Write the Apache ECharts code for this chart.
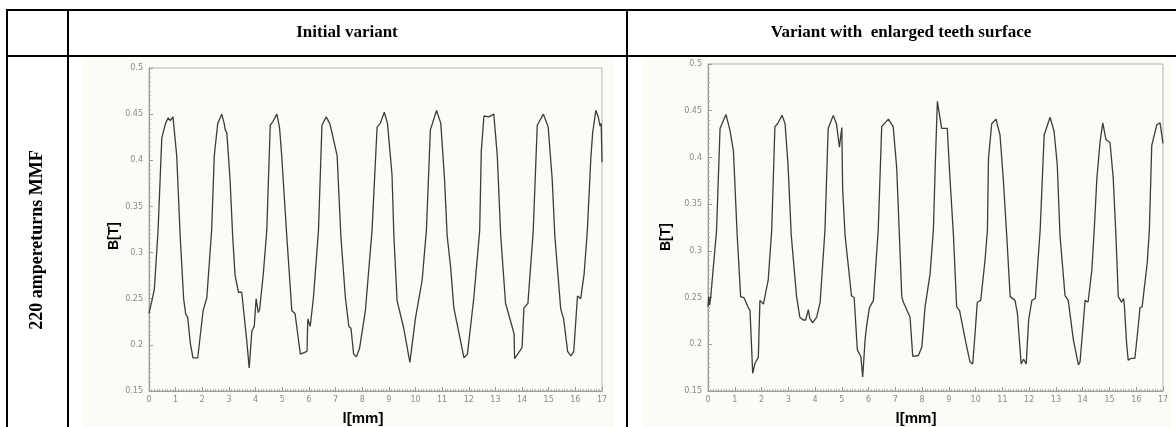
<!DOCTYPE html>
<html>
<head>
<meta charset="utf-8">
<script src="https://cdn.jsdelivr.net/npm/echarts@6/dist/echarts.min.js"></script>
<style>
html,body{margin:0;padding:0;background:#fff;}
#c{width:1176px;height:427px;}
</style>
</head>
<body>
<div id="c"></div>
<script>
// ---- data ----
var headerLabels = ['Initial variant', 'Variant with  enlarged teeth surface'];
var rowLabel = '220 ampereturns MMF';
var yAxisName = 'B[T]';
var xAxisName = 'l[mm]';
var yTicks = [0.15, 0.2, 0.25, 0.3, 0.35, 0.4, 0.45, 0.5];
var xTicks = [0,1,2,3,4,5,6,7,8,9,10,11,12,13,14,15,16,17];

var lengthInitial = [0,0.11,0.2,0.34,0.48,0.62,0.72,0.8,0.9,1.04,1.17,1.3,1.38,1.45,1.55,1.65,1.83,2.03,2.17,2.35,2.45,2.58,2.73,2.82,2.86,2.92,3.04,3.14,3.23,3.36,3.48,3.67,3.76,3.86,3.95,4.02,4.1,4.15,4.29,4.42,4.55,4.65,4.8,4.9,4.98,5.17,5.36,5.48,5.68,5.93,5.96,6.05,6.17,6.36,6.49,6.65,6.78,6.85,6.92,7.06,7.2,7.37,7.5,7.58,7.68,7.78,7.9,8.12,8.37,8.56,8.68,8.83,8.95,9.12,9.19,9.31,9.56,9.79,10.0,10.25,10.41,10.56,10.79,10.95,11.09,11.19,11.32,11.44,11.82,11.95,12.19,12.41,12.47,12.57,12.75,12.94,13.07,13.2,13.38,13.45,13.52,13.7,13.72,14.0,14.07,14.22,14.42,14.57,14.8,14.98,15.13,15.23,15.45,15.56,15.71,15.83,15.94,16.08,16.2,16.33,16.45,16.58,16.65,16.77,16.85,16.93,16.97,17.0];
var fluxInitial = [0.234,0.248,0.26,0.324,0.424,0.44,0.446,0.443,0.447,0.405,0.318,0.25,0.233,0.23,0.202,0.186,0.186,0.237,0.251,0.324,0.405,0.44,0.45,0.44,0.433,0.43,0.38,0.318,0.275,0.257,0.257,0.204,0.175,0.215,0.22,0.25,0.235,0.238,0.277,0.324,0.438,0.442,0.45,0.435,0.405,0.318,0.237,0.234,0.19,0.193,0.228,0.22,0.251,0.324,0.438,0.447,0.44,0.432,0.431,0.405,0.318,0.251,0.22,0.218,0.19,0.187,0.196,0.237,0.324,0.436,0.44,0.452,0.44,0.384,0.318,0.248,0.218,0.181,0.229,0.27,0.324,0.433,0.454,0.44,0.38,0.318,0.284,0.24,0.186,0.19,0.251,0.324,0.41,0.448,0.447,0.45,0.405,0.318,0.245,0.238,0.24,0.212,0.185,0.197,0.24,0.245,0.324,0.438,0.45,0.436,0.38,0.318,0.239,0.228,0.193,0.188,0.193,0.253,0.25,0.277,0.324,0.402,0.43,0.454,0.448,0.437,0.44,0.398];

var lengthEnlarged = [0,0.03,0.06,0.1,0.32,0.45,0.67,0.82,0.95,1.0,1.09,1.22,1.34,1.51,1.57,1.67,1.76,1.88,1.94,2.07,2.25,2.38,2.5,2.6,2.77,2.88,2.99,3.11,3.31,3.43,3.56,3.65,3.75,3.8,3.91,4.06,4.19,4.37,4.49,4.68,4.8,4.91,5.0,5.03,5.12,5.36,5.46,5.58,5.71,5.78,5.87,5.92,6.03,6.18,6.36,6.49,6.74,6.92,7.05,7.15,7.24,7.3,7.55,7.65,7.86,7.99,8.11,8.3,8.42,8.5,8.57,8.73,8.8,8.94,9.04,9.17,9.29,9.4,9.64,9.79,9.89,9.98,10.06,10.19,10.35,10.44,10.48,10.6,10.76,10.91,11.03,11.16,11.29,11.47,11.56,11.7,11.79,11.89,11.98,12.1,12.23,12.41,12.56,12.78,12.93,13.05,13.15,13.34,13.46,13.65,13.84,13.9,14.03,14.09,14.2,14.34,14.43,14.53,14.65,14.75,14.87,15.02,15.14,15.24,15.33,15.45,15.53,15.56,15.64,15.7,15.82,15.95,16.07,16.14,16.22,16.41,16.49,16.58,16.77,16.89,17.0];
var fluxEnlarged = [0.24,0.251,0.242,0.25,0.322,0.431,0.446,0.429,0.407,0.405,0.317,0.251,0.25,0.239,0.236,0.169,0.18,0.186,0.247,0.243,0.269,0.322,0.433,0.436,0.445,0.436,0.392,0.317,0.251,0.229,0.226,0.226,0.237,0.228,0.223,0.229,0.245,0.322,0.431,0.445,0.436,0.411,0.432,0.367,0.317,0.252,0.25,0.194,0.187,0.165,0.205,0.218,0.239,0.247,0.322,0.433,0.441,0.433,0.389,0.317,0.251,0.245,0.229,0.187,0.188,0.197,0.24,0.276,0.322,0.4,0.46,0.431,0.43,0.431,0.378,0.317,0.24,0.236,0.201,0.181,0.179,0.212,0.245,0.247,0.29,0.322,0.399,0.436,0.441,0.424,0.378,0.317,0.251,0.247,0.233,0.179,0.184,0.179,0.226,0.247,0.249,0.322,0.424,0.443,0.428,0.392,0.317,0.252,0.247,0.205,0.178,0.181,0.226,0.247,0.245,0.279,0.322,0.378,0.417,0.437,0.419,0.416,0.378,0.317,0.251,0.245,0.249,0.24,0.201,0.183,0.185,0.185,0.218,0.239,0.24,0.287,0.322,0.413,0.435,0.437,0.415];

// ---- build ----
function pairs(xs, ys){ var out=[]; for(var i=0;i<xs.length;i++){ out.push([xs[i], ys[i]]); } return out; }

var grids = [
  {left:149, top:68, width:453, height:323},
  {left:708, top:64, width:455, height:327}
];

function xAxisCfg(idx){
  return {
    type:'value', gridIndex:idx, min:xTicks[0], max:xTicks[xTicks.length-1], interval:1,
    axisLine:{show:true, lineStyle:{color:'#9a9a9a', width:1}},
    axisTick:{show:true, inside:true, length:4, lineStyle:{color:'#9a9a9a'}},
    minorTick:{show:true, splitNumber:10, length:2, lineStyle:{color:'#b0b0b0'}},
    axisLabel:{color:'#8a8a8a', fontSize:8, margin:5, fontFamily:'DejaVu Sans'},
    splitLine:{show:false}
  };
}
function yAxisCfg(idx){
  return {
    type:'value', gridIndex:idx, min:yTicks[0], max:yTicks[yTicks.length-1], interval:0.05,
    axisLine:{show:true, lineStyle:{color:'#9a9a9a', width:1}},
    axisTick:{show:true, inside:true, length:4, lineStyle:{color:'#9a9a9a'}},
    minorTick:{show:true, splitNumber:10, length:2, lineStyle:{color:'#b0b0b0'}},
    axisLabel:{color:'#8a8a8a', fontSize:8, margin:6, fontFamily:'DejaVu Sans',
      formatter:function(v){ return String(parseFloat(v.toFixed(2))); }},
    splitLine:{show:false}
  };
}

var lineW = 2;
var graphics = [
  // panel backgrounds
  {type:'rect', z:-10, shape:{x:83, y:58, width:531, height:369}, style:{fill:'#fafcf6'}},
  {type:'rect', z:-10, shape:{x:643, y:58, width:528, height:369}, style:{fill:'#fafcf6'}},
  // table lines
  {type:'line', shape:{x1:6, y1:10, x2:1176, y2:10}, style:{stroke:'#000', lineWidth:lineW}},
  {type:'line', shape:{x1:6, y1:56, x2:1176, y2:56}, style:{stroke:'#000', lineWidth:lineW}},
  {type:'line', shape:{x1:7, y1:9, x2:7, y2:427}, style:{stroke:'#000', lineWidth:lineW}},
  {type:'line', shape:{x1:68, y1:9, x2:68, y2:427}, style:{stroke:'#000', lineWidth:lineW}},
  {type:'line', shape:{x1:627, y1:9, x2:627, y2:427}, style:{stroke:'#000', lineWidth:lineW}},
  // headers
  {type:'text', x:347, y:33, style:{text:headerLabels[0], fill:'#000', font:'bold 17px "Liberation Serif"', textAlign:'center', textVerticalAlign:'middle'}},
  {type:'text', x:901, y:33, style:{text:headerLabels[1], fill:'#000', font:'bold 17px "Liberation Serif"', textAlign:'center', textVerticalAlign:'middle'}},
  {type:'text', x:37, y:240, rotation:Math.PI/2, style:{text:rowLabel, fill:'#000', font:'bold 18px "Liberation Serif"', textAlign:'center', textVerticalAlign:'middle'}},
  // axis names
  {type:'text', x:114, y:236, rotation:Math.PI/2, style:{text:yAxisName, fill:'#000', font:'bold 14px "Liberation Sans"', textAlign:'center', textVerticalAlign:'middle'}},
  {type:'text', x:666, y:237, rotation:Math.PI/2, style:{text:yAxisName, fill:'#000', font:'bold 14px "Liberation Sans"', textAlign:'center', textVerticalAlign:'middle'}},
  {type:'text', x:363, y:419, style:{text:xAxisName, fill:'#000', font:'bold 15px "Liberation Sans"', textAlign:'center', textVerticalAlign:'middle'}},
  {type:'text', x:916, y:419, style:{text:xAxisName, fill:'#000', font:'bold 15px "Liberation Sans"', textAlign:'center', textVerticalAlign:'middle'}}
];

var chart = echarts.init(document.getElementById('c'), null, {renderer:'canvas'});
chart.setOption({
  animation:false,
  backgroundColor:'#ffffff',
  grid: grids.map(function(g){ return Object.assign({show:true, borderColor:'#b5b5b5', borderWidth:1, backgroundColor:'transparent', containLabel:false}, g); }),
  xAxis:[xAxisCfg(0), xAxisCfg(1)],
  yAxis:[yAxisCfg(0), yAxisCfg(1)],
  series:[
    {type:'line', xAxisIndex:0, yAxisIndex:0, data:pairs(lengthInitial, fluxInitial), showSymbol:false, smooth:false, lineStyle:{color:'#3c3c3c', width:1.3}},
    {type:'line', xAxisIndex:1, yAxisIndex:1, data:pairs(lengthEnlarged, fluxEnlarged), showSymbol:false, smooth:false, lineStyle:{color:'#3c3c3c', width:1.3}}
  ],
  graphic: graphics
});
</script>
</body>
</html>
